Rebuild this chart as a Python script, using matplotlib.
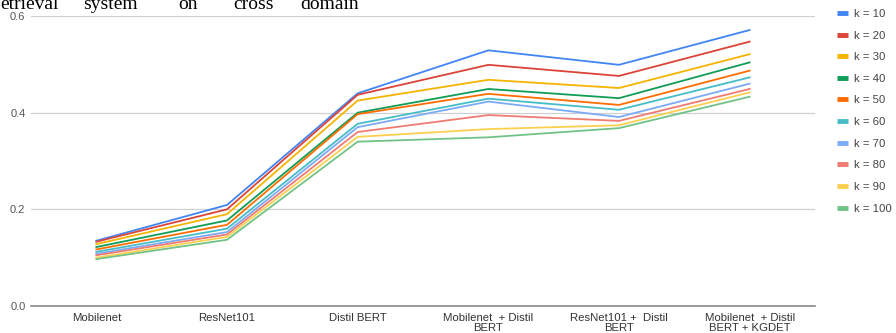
import numpy as np
import matplotlib.pyplot as plt
from matplotlib.lines import Line2D

plt.rcParams['font.family'] = ['Liberation Sans', 'DejaVu Sans']

# categories on the x axis
models = ['Mobilenet', 'ResNet101', 'Distil BERT', 'Mobilenet  + Distil\nBERT',
          'ResNet101 +  Distil\nBERT', 'Mobilenet  + Distil\nBERT + KGDET']

# one series per k
k_values = [10, 20, 30, 40, 50, 60, 70, 80, 90, 100]
k10 = [0.135, 0.209, 0.440, 0.529, 0.499, 0.571]
k20 = [0.133, 0.200, 0.437, 0.499, 0.476, 0.547]
k30 = [0.128, 0.190, 0.425, 0.468, 0.451, 0.521]
k40 = [0.122, 0.177, 0.400, 0.449, 0.430, 0.504]
k50 = [0.117, 0.168, 0.397, 0.439, 0.416, 0.487]
k60 = [0.112, 0.160, 0.377, 0.429, 0.406, 0.473]
k70 = [0.108, 0.153, 0.370, 0.423, 0.391, 0.460]
k80 = [0.105, 0.148, 0.360, 0.395, 0.383, 0.449]
k90 = [0.100, 0.143, 0.350, 0.366, 0.374, 0.442]
k100 = [0.097, 0.137, 0.340, 0.349, 0.368, 0.433]
series = [k10, k20, k30, k40, k50, k60, k70, k80, k90, k100]

colors = ['#4285F4', '#DB4437', '#F4B400', '#0F9D58', '#FF6D01',
          '#46BDC6', '#7BAAF7', '#F07B72', '#FCD04F', '#71C287']

fig = plt.figure(figsize=(8.96, 3.33), dpi=100)
ax = fig.add_axes([31/896, 1-306/333, (815-31)/896, 290/333])

x = np.arange(len(models))
for k, vals, c in zip(k_values, series, colors):
    ax.plot(x, vals, color=c, lw=1.3, label='k = %d' % k)

ax.set_xlim(-0.5, len(models) - 0.5)
ax.set_ylim(0, 0.6)
ax.set_yticks([0.0, 0.2, 0.4, 0.6])
ax.set_yticklabels(['0.0', '0.2', '0.4', '0.6'])
ax.set_xticks(x)
ax.set_xticklabels(models, fontsize=8.2, color='#333333', linespacing=0.95)
ax.tick_params(axis='y', length=0, labelsize=8, labelcolor='#555555', pad=4)
ax.tick_params(axis='x', length=0, pad=5)
ax.yaxis.grid(True, color='#d0d0d0', lw=0.9)
ax.set_axisbelow(True)
for s in ['top', 'right', 'left']:
    ax.spines[s].set_visible(False)
ax.spines['bottom'].set_color('#888888')
ax.spines['bottom'].set_linewidth(1.2)

# legend on the right
leg_handles = [Line2D([], [], color=c, lw=3.5, solid_capstyle='butt') for c in colors]
fig.legend(leg_handles, ['k = %d' % k for k in k_values], loc='upper left',
           bbox_to_anchor=(837/896, 1-9/333), frameon=False, fontsize=8.2,
           handlelength=1.0, handletextpad=0.5, labelspacing=1.02,
           borderaxespad=0, borderpad=0, labelcolor='#444444')

# clipped caption text of the page above the chart
words = ['etrieval', 'system', 'on', 'cross', 'domain']
word_x = [0, 83, 178, 233, 300]
for w, wx in zip(words, word_x):
    fig.text(wx/896, 1-9/333, w, family='Liberation Serif', fontsize=14,
             va='baseline', ha='left', color='black')

fig.savefig('out.png', dpi=100)
